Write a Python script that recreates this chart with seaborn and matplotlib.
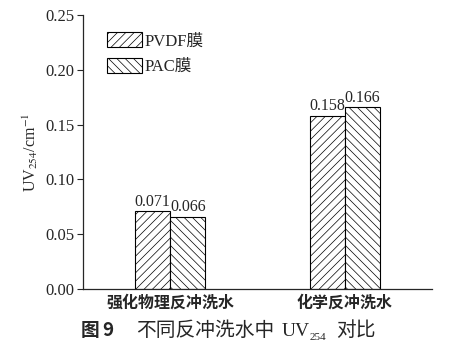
import matplotlib
matplotlib.use('Agg')
import matplotlib.pyplot as plt
import seaborn as sns
import pandas as pd
from matplotlib.patches import Patch

categories = ['强化物理反冲洗水', '化学反冲洗水']
membranes = ['PVDF膜', 'PAC膜']
pvdf = [0.071, 0.158]
pac = [0.066, 0.166]
yticks = [0.00, 0.05, 0.10, 0.15, 0.20, 0.25]
hatches = ['////', '\\\\\\\\']

sns.set_theme(style='ticks')
plt.rcParams['font.family'] = ['Liberation Serif', 'Noto Sans CJK SC']
plt.rcParams['mathtext.fontset'] = 'stix'
plt.rcParams['hatch.linewidth'] = 0.5
plt.rcParams['hatch.color'] = '#333333'
plt.rcParams['axes.linewidth'] = 0.9

df = pd.DataFrame({
    'cat': categories * 2,
    'mem': [membranes[0]] * len(categories) + [membranes[1]] * len(categories),
    'val': pvdf + pac,
})

W, H = 473, 354
fig = plt.figure(figsize=(4.73, 3.54), dpi=100)
ax = fig.add_axes([83 / W, 1 - 289 / H, 349 / W, 274 / H])
sns.barplot(data=df, x='cat', y='val', hue='mem', order=categories,
            hue_order=membranes, width=0.4, palette=['white', 'white'],
            edgecolor='black', linewidth=0.8, ax=ax, legend=False,
            saturation=1)

for cont, h in zip(ax.containers, hatches):
    for p in cont:
        p.set_hatch(h)
        p.set_facecolor('white')
    ax.bar_label(cont, fmt='%.3f', padding=1, fontsize=11.5,
                 fontfamily='Liberation Serif')

ax.set_xlim(-0.5, 1.5)
ax.set_ylim(0, 0.25)
ax.set_yticks(yticks)
ax.set_yticklabels([f'{v:.2f}' for v in yticks], fontsize=12,
                   fontfamily='Liberation Serif')
ax.tick_params(axis='y', direction='out', length=4, width=0.8, pad=2)
ax.tick_params(axis='x', length=0, pad=4)
for lbl in ax.get_xticklabels():
    lbl.set_fontfamily(['Noto Sans CJK SC'])
    lbl.set_fontsize(11.5)
    lbl.set_fontweight('bold')
ax.set_xlabel('')
ax.set_ylabel(r'UV$_{254}$/cm$^{-1}$', fontsize=11.5, labelpad=4)
sns.despine(ax=ax)

handles = [Patch(facecolor='white', edgecolor='black', hatch=h, linewidth=0.8)
           for h in hatches]
ax.legend(handles, membranes, loc='upper left', bbox_to_anchor=(0.03, 0.985),
          frameon=False, handlelength=2.1, handleheight=1.0,
          prop={'family': ['Liberation Serif', 'Noto Sans CJK SC'], 'size': 12},
          handletextpad=0.15, labelspacing=0.5, borderpad=0.3)

# caption
cy = 1 - 330 / H
cjk = ['Noto Sans CJK SC']
fig.text(81 / W, cy, '图', fontsize=13.5, fontweight='bold', family=cjk,
         va='center', ha='left')
fig.text(102 / W, cy, '9', fontsize=13.5, fontweight='bold', family=cjk,
         va='center', ha='left')
fig.text(136 / W, cy, '不同反冲洗水中', fontsize=14.2, family=cjk,
         va='center', ha='left')
fig.text(282 / W, cy - 1 / H, 'UV', fontsize=14, family=['Liberation Serif'],
         va='center', ha='left')
fig.text(310 / W, cy - 7 / H, '254', fontsize=8, family=['Liberation Serif'],
         va='center', ha='left')
fig.text(336 / W, cy, '对比', fontsize=14.2, family=cjk,
         va='center', ha='left')

fig.savefig('out.png', dpi=100, facecolor='white')
